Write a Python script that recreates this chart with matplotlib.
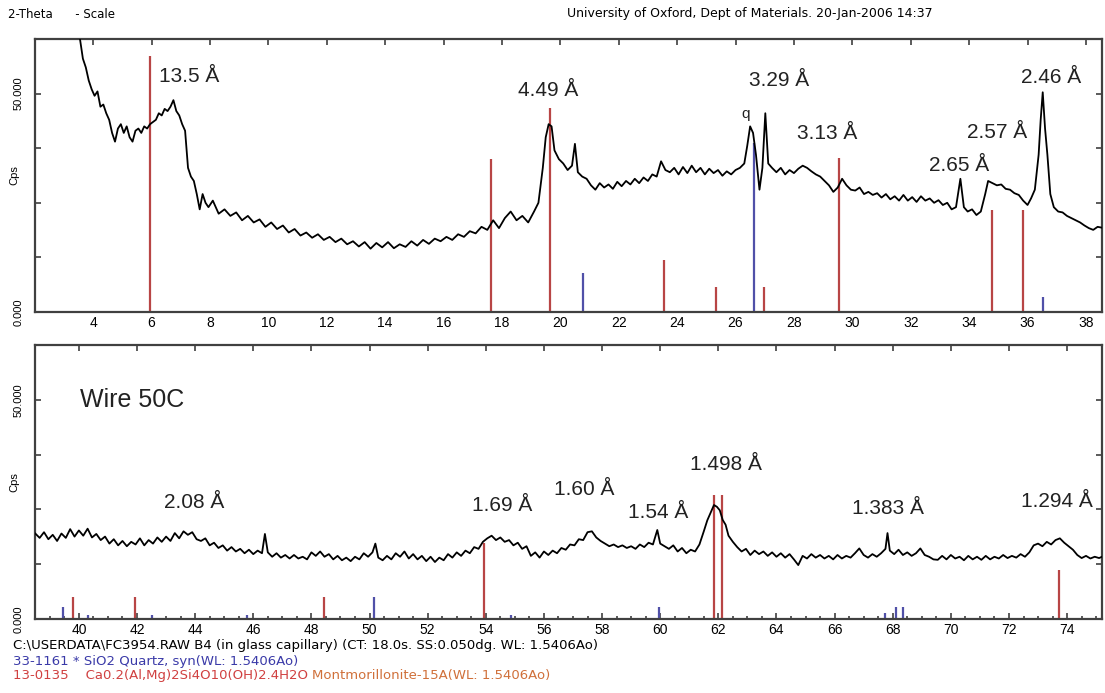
import matplotlib
matplotlib.use("Agg")
import matplotlib.pyplot as plt
from matplotlib.ticker import MultipleLocator, FixedLocator

plt.rcParams['font.family'] = ['Liberation Sans', 'DejaVu Sans']

# ---- top panel: 2-theta 2..38.5 ----
two_theta_top = [
    3.55, 3.65, 3.75, 3.85, 3.95, 4.05, 4.15, 4.25, 4.35, 4.45, 4.55, 4.65, 4.75, 4.85, 4.95,
    5.05, 5.15, 5.25, 5.35, 5.45, 5.55, 5.65, 5.75, 5.85, 5.95, 6.05, 6.15, 6.25, 6.35, 6.45,
    6.55, 6.65, 6.75, 6.85, 6.95, 7.05, 7.15, 7.25, 7.35, 7.45, 7.55, 7.65, 7.75, 7.85, 7.95,
    8.1, 8.3, 8.5, 8.7, 8.9, 9.1, 9.3, 9.5, 9.7, 9.9, 10.1, 10.3, 10.5, 10.7, 10.9,
    11.1, 11.3, 11.5, 11.7, 11.9, 12.1, 12.3, 12.5, 12.7, 12.9, 13.1, 13.3, 13.5, 13.7, 13.9,
    14.1, 14.3, 14.5, 14.7, 14.9, 15.1, 15.3, 15.5, 15.7, 15.9, 16.1, 16.3, 16.5, 16.7, 16.9,
    17.1, 17.3, 17.5, 17.7, 17.9, 18.1, 18.3, 18.5, 18.7, 18.9, 19.1, 19.25, 19.4, 19.5, 19.6,
    19.7, 19.8, 19.95, 20.1, 20.25, 20.4, 20.5, 20.6, 20.75, 20.9, 21.05, 21.2, 21.35, 21.5, 21.65,
    21.8, 21.95, 22.1, 22.25, 22.4, 22.55, 22.7, 22.85, 23.0, 23.15, 23.3, 23.45, 23.6, 23.75, 23.9,
    24.05, 24.2, 24.35, 24.5, 24.65, 24.8, 24.95, 25.1, 25.25, 25.4, 25.55, 25.7, 25.85, 26.0, 26.15,
    26.3, 26.4, 26.5, 26.6, 26.7, 26.82, 26.92, 27.02, 27.12, 27.25, 27.4, 27.55, 27.7, 27.85, 28.0,
    28.15, 28.3, 28.45, 28.6, 28.75, 28.9, 29.05, 29.2, 29.35, 29.5, 29.65, 29.8, 29.95, 30.1, 30.25,
    30.4, 30.55, 30.7, 30.85, 31.0, 31.15, 31.3, 31.45, 31.6, 31.75, 31.9, 32.05, 32.2, 32.35, 32.5,
    32.65, 32.8, 32.95, 33.1, 33.25, 33.4, 33.55, 33.7, 33.82, 33.95, 34.1, 34.25, 34.4, 34.55, 34.65,
    34.8, 34.95, 35.1, 35.25, 35.4, 35.55, 35.7, 35.85, 36.0, 36.12, 36.25, 36.38, 36.45, 36.52, 36.6,
    36.68, 36.78, 36.9, 37.05, 37.2, 37.35, 37.5, 37.65, 37.8, 37.95, 38.1, 38.25, 38.4, 38.55,
]
cps_top = [
    62.5, 58, 56, 53, 51, 49.5, 50.5, 47, 47.5, 45.5, 44, 41, 39, 42, 43,
    41, 42.5, 40, 39, 41.5, 42, 41, 42.5, 42, 43, 43.5, 44, 45.5, 45, 46.5,
    46, 47, 48.5, 46, 45, 43, 41.5, 33, 31, 30, 27, 23.5, 27, 25, 24,
    25.5, 22.5, 23.5, 22, 22.8, 21, 22, 20.5, 21.2, 19.5, 20.5, 19, 19.8, 18.2, 19,
    17.5, 18.2, 17, 17.8, 16.5, 17.2, 16, 16.8, 15.5, 16.2, 15, 16, 14.5, 15.8, 14.8,
    16, 14.6, 15.5, 14.9, 16.2, 15.2, 16.5, 15.6, 16.8, 16.2, 17.2, 16.5, 17.8, 17.2, 18.5,
    18, 19.5, 18.8, 21, 19.2, 21.5, 23, 21, 22, 20.5, 23, 25, 33, 40, 43,
    42.5, 37, 35, 34, 32.5, 33.5, 38.5, 32, 31, 30.5, 29, 28, 29.5, 28.5, 29.2,
    28.2, 29.8, 28.8, 30, 29.2, 30.5, 29.5, 30.8, 30, 31.5, 31, 34.5, 32.5, 32, 33,
    31.5, 33.2, 31.8, 33.5, 32, 33, 31.5, 32.8, 31.8, 32.5, 31.2, 32.2, 31.5, 32.5, 33,
    34, 38, 42.5, 41, 36, 28, 33, 45.5, 34, 33, 32, 33, 31.5, 32.5, 31.8,
    32.8, 33.5, 33, 32.2, 31.5, 31, 30, 29, 27.5, 28.5, 30.5, 29, 28, 27.8, 28.5,
    27, 27.5, 26.8, 27.2, 26.2, 27, 25.8, 26.5, 25.5, 26.8, 25.5, 26.3, 25.2, 26.5, 25.5,
    26, 25, 25.6, 24.5, 25, 23.5, 24, 30.5, 24, 23, 23.5, 22.2, 23, 27, 30,
    29.5, 29, 29.2, 28.2, 28, 27.2, 26.8, 25.5, 24.5, 26, 28, 36, 44, 50.3, 42,
    36, 27, 24, 23, 22.8, 22, 21.5, 21, 20.5, 19.8, 19.2, 18.8, 19.5, 19.3,
]

# ---- bottom panel: 2-theta 38.5..75.2 ----
two_theta_bot = [
    38.5, 38.65, 38.8, 38.95, 39.1, 39.25, 39.4, 39.55, 39.7, 39.85, 40.0, 40.15, 40.3, 40.45, 40.6,
    40.75, 40.9, 41.05, 41.2, 41.35, 41.5, 41.65, 41.8, 41.95, 42.1, 42.25, 42.4, 42.55, 42.7, 42.85,
    43.0, 43.15, 43.3, 43.45, 43.6, 43.75, 43.9, 44.05, 44.2, 44.35, 44.5, 44.65, 44.8, 44.95, 45.1,
    45.25, 45.4, 45.55, 45.7, 45.85, 46.0, 46.15, 46.3, 46.4, 46.5, 46.65, 46.8, 46.95, 47.1, 47.25,
    47.4, 47.55, 47.7, 47.85, 48.0, 48.15, 48.3, 48.45, 48.6, 48.75, 48.9, 49.05, 49.2, 49.35, 49.5,
    49.65, 49.8, 49.95, 50.1, 50.2, 50.3, 50.45, 50.6, 50.75, 50.9, 51.05, 51.2, 51.35, 51.5, 51.65,
    51.8, 51.95, 52.1, 52.25, 52.4, 52.55, 52.7, 52.85, 53.0, 53.15, 53.3, 53.45, 53.6, 53.75, 53.9,
    54.05, 54.2, 54.35, 54.5, 54.65, 54.8, 54.95, 55.1, 55.25, 55.4, 55.55, 55.7, 55.85, 56.0, 56.15,
    56.3, 56.45, 56.6, 56.75, 56.9, 57.05, 57.2, 57.35, 57.5, 57.65, 57.8, 57.95, 58.1, 58.25, 58.4,
    58.55, 58.7, 58.85, 59.0, 59.15, 59.3, 59.45, 59.6, 59.75, 59.9, 60.0, 60.15, 60.3, 60.45, 60.6,
    60.75, 60.9, 61.05, 61.2, 61.35, 61.5, 61.62, 61.75, 61.85, 61.95, 62.05, 62.15, 62.25, 62.35, 62.5,
    62.65, 62.8, 62.95, 63.1, 63.25, 63.4, 63.55, 63.7, 63.85, 64.0, 64.15, 64.3, 64.45, 64.6, 64.75,
    64.9, 65.05, 65.2, 65.35, 65.5, 65.65, 65.8, 65.95, 66.1, 66.25, 66.4, 66.55, 66.7, 66.85, 67.0,
    67.15, 67.3, 67.45, 67.6, 67.75, 67.82, 67.9, 68.05, 68.2, 68.35, 68.5, 68.65, 68.8, 68.95, 69.1,
    69.25, 69.4, 69.55, 69.7, 69.85, 70.0, 70.15, 70.3, 70.45, 70.6, 70.75, 70.9, 71.05, 71.2, 71.35,
    71.5, 71.65, 71.8, 71.95, 72.1, 72.25, 72.4, 72.55, 72.7, 72.85, 73.0, 73.15, 73.3, 73.45, 73.6,
    73.75, 73.9, 74.05, 74.2, 74.35, 74.5, 74.65, 74.8, 74.95, 75.1, 75.2,
]
cps_bot = [
    19.5, 18.5, 19.8, 18.2, 19.2, 17.8, 19.5, 18.5, 20.5, 18.8, 20.2, 19, 20.6, 18.6, 19.4,
    18, 18.8, 17.2, 18.2, 16.8, 17.8, 16.6, 17.6, 17, 18.4, 16.8, 18, 17.2, 18.6, 17.6,
    18.8, 17.8, 19.6, 18.4, 20, 19.2, 19.8, 18.2, 17.8, 18.4, 16.8, 17.4, 16.2, 16.8, 15.6,
    16.4, 15.4, 16, 15, 15.8, 14.8, 15.6, 15, 19.4, 15.2, 14.2, 15, 14, 14.6, 13.8,
    14.6, 13.8, 14.2, 13.6, 15.2, 14.4, 15.4, 14.2, 14.8, 13.6, 14.4, 13.4, 14, 13.2, 14.2,
    13.6, 15, 14.2, 15.2, 17.2, 14, 13.4, 14.4, 13.6, 15, 14.2, 15.4, 13.8, 14.8, 13.6,
    14.4, 13.2, 14.2, 13, 14, 13.4, 14.8, 14, 15.2, 14.4, 15.6, 15, 16.4, 16, 17.6,
    18.4, 19, 18, 18.6, 17.6, 18, 16.8, 17.4, 16, 16.6, 14.4, 15.2, 14, 15.4, 14.6,
    15.6, 15, 16.2, 15.8, 17, 16.8, 18.2, 18, 19.8, 20, 18.6, 17.8, 17.2, 16.6, 17,
    16.4, 16.8, 16.2, 16.6, 16, 17, 16.4, 17.4, 17, 20.3, 17.2, 16.6, 16, 16.8, 15.4,
    16.2, 15, 15.8, 15.4, 17, 20, 22.5, 24.5, 26, 25.6, 24.8, 22.6, 21.5, 19, 17.6,
    16.4, 15.4, 16, 14.6, 15.6, 14.8, 15.4, 14.4, 15.2, 14.2, 15, 14, 14.8, 13.6, 12.3,
    14.4, 13.8, 14.8, 14, 14.6, 13.8, 14.4, 13.6, 14.6, 13.8, 14.4, 14, 15, 16.1, 14.6,
    14, 14.8, 14.2, 15, 16, 19.6, 15.6, 14.8, 15.8, 14.6, 15.2, 14.4, 15, 16.1, 14.6,
    14.2, 13.6, 13.5, 14.4, 13.6, 14.6, 13.8, 14.2, 13.4, 14.4, 13.6, 14.2, 13.5, 14.4, 13.6,
    14.2, 13.8, 14.6, 13.9, 14.4, 14, 14.8, 14.2, 15.2, 16.8, 17.2, 16.6, 17.6, 17, 18,
    18.4, 17.4, 16.6, 15.8, 14.6, 13.9, 14.4, 13.8, 14.2, 13.9, 14.2,
]

# reference patterns (stick lines)
mont_pos = [5.95, 17.64, 19.64, 23.55, 25.34, 26.97, 29.54, 34.77, 35.85,
            39.8, 41.92, 48.42, 53.93, 61.85, 62.12, 73.73]
mont_int = [58.7, 35, 46.6, 11.9, 5.7, 5.7, 35.2, 23.3, 23.3,
            5.0, 5.0, 5.0, 17.3, 28.3, 28.3, 11.2]
quartz_pos = [20.77, 26.62, 36.52, 39.45, 40.3, 42.5, 45.8, 50.17, 54.86,
              59.95, 67.75, 68.1, 68.37]
quartz_int = [8.9, 38.8, 3.5, 2.7, 1.0, 1.0, 1.0, 5.0, 1.0,
              2.8, 1.3, 2.8, 2.8]

# d-spacing labels: (text, 2theta, y)
peak_labels_top = [("13.5 Å", 6.25, 54, "left"), ("4.49 Å", 19.6, 50.7, "center"),
                   ("3.29 Å", 27.5, 53, "center"), ("3.13 Å", 29.15, 40.9, "center"),
                   ("2.65 Å", 33.65, 33.6, "center"), ("2.57 Å", 34.97, 41, "center"),
                   ("2.46 Å", 36.8, 53.7, "center")]
peak_labels_bot = [("2.08 Å", 43.95, 26.5), ("1.69 Å", 54.58, 26), ("1.60 Å", 57.4, 29.5),
                   ("1.54 Å", 59.92, 24.4), ("1.498 Å", 62.27, 35.2),
                   ("1.383 Å", 67.83, 25.3), ("1.294 Å", 73.65, 26.9)]

RED = '#b84545'
BLUE = '#5050a8'
W, H = 1105, 693

fig = plt.figure(figsize=(W / 100, H / 100), dpi=100)
ax1 = fig.add_axes([35 / W, 1 - 312 / H, 1067 / W, 273 / H])
ax2 = fig.add_axes([35 / W, 1 - 619 / H, 1067 / W, 274 / H])


def draw_panel(ax, x, y, xlim):
    lo, hi = xlim
    for p, h in zip(mont_pos, mont_int):
        if lo < p < hi:
            ax.vlines(p, 0, h, color=RED, lw=1.6, zorder=2)
    for p, h in zip(quartz_pos, quartz_int):
        if lo < p < hi:
            ax.vlines(p, 0, h, color=BLUE, lw=1.6, zorder=2)
    ax.plot(x, y, color='black', lw=1.3, zorder=3)
    ax.set_xlim(lo, hi)
    ax.set_ylim(0, 62.5)
    ax.xaxis.set_major_locator(MultipleLocator(2))
    ax.yaxis.set_major_locator(FixedLocator([0, 12.5, 25, 37.5, 50]))
    ax.set_yticklabels(['0.000', '', '', '', '50.000'], rotation=90, va='center')
    ax.tick_params(axis='y', which='both', direction='in', left=True, right=True,
                   length=4, width=1.2, labelsize=8, pad=8, color='#404040')
    ax.tick_params(axis='x', which='major', direction='in', top=True, bottom=False,
                   length=4, width=1.2, labelsize=10, pad=3, color='#404040')
    ax.set_ylabel('Cps', fontsize=8)
    ax.yaxis.set_label_coords(-21 / 1067, 0.5)
    ax.yaxis.label.set_va('center')
    for s in ax.spines.values():
        s.set_color('#404040')
        s.set_linewidth(1.6)


draw_panel(ax1, two_theta_top, cps_top, (2.01, 38.55))
draw_panel(ax2, two_theta_bot, cps_bot, (38.49, 75.2))
ax2.xaxis.set_minor_locator(MultipleLocator(0.5))
ax2.tick_params(axis='x', which='both', bottom=True)
ax2.tick_params(axis='x', which='minor', direction='in', length=2, width=1.2,
                color='#404040')

for t, px, py, ha in peak_labels_top:
    ax1.text(px, py, t, fontsize=15, ha=ha, va='center', color='#222222')
ax1.text(26.36, 45.4, 'q', fontsize=11, ha='center', va='center', color='#222222')

ax2.text(40.03, 50, 'Wire 50C', fontsize=18, ha='left', va='center', color='#222222')
for t, px, py in peak_labels_bot:
    ax2.text(px, py, t, fontsize=15, ha='center', va='center', color='#222222')

# header
fig.text(8 / W, 1 - 14 / H, '2-Theta      - Scale', fontsize=8.5, va='center',
         family=['DejaVu Sans'])
fig.text(750 / W, 1 - 14 / H, 'University of Oxford, Dept of Materials. 20-Jan-2006 14:37',
         fontsize=9, ha='center', va='center', family=['DejaVu Sans'])

# footer (three stacked lines)
FOOT = 9.5
fig.text(13 / W, 1 - 646 / H,
         'C:\\USERDATA\\FC3954.RAW B4 (in glass capillary) (CT: 18.0s. SS:0.050dg. WL: 1.5406Ao)',
         fontsize=FOOT, va='center', family=['DejaVu Sans'])
fig.text(13 / W, 1 - 661 / H, '33-1161 * SiO2 Quartz, syn(WL: 1.5406Ao)',
         fontsize=FOOT, va='center', color='#3a3aa8', family=['DejaVu Sans'])
t3 = fig.text(13 / W, 1 - 676 / H, '13-0135    Ca0.2(Al,Mg)2Si4O10(OH)2.4H2O ',
              fontsize=FOOT, va='center', color='#d04040', family=['DejaVu Sans'])
plt.annotate('Montmorillonite-15A(WL: 1.5406Ao)', xy=(1, 0.5), xycoords=t3,
             va='center', ha='left', fontsize=FOOT, color='#d0703a', family=['DejaVu Sans'])

fig.savefig('out.png', dpi=100)
